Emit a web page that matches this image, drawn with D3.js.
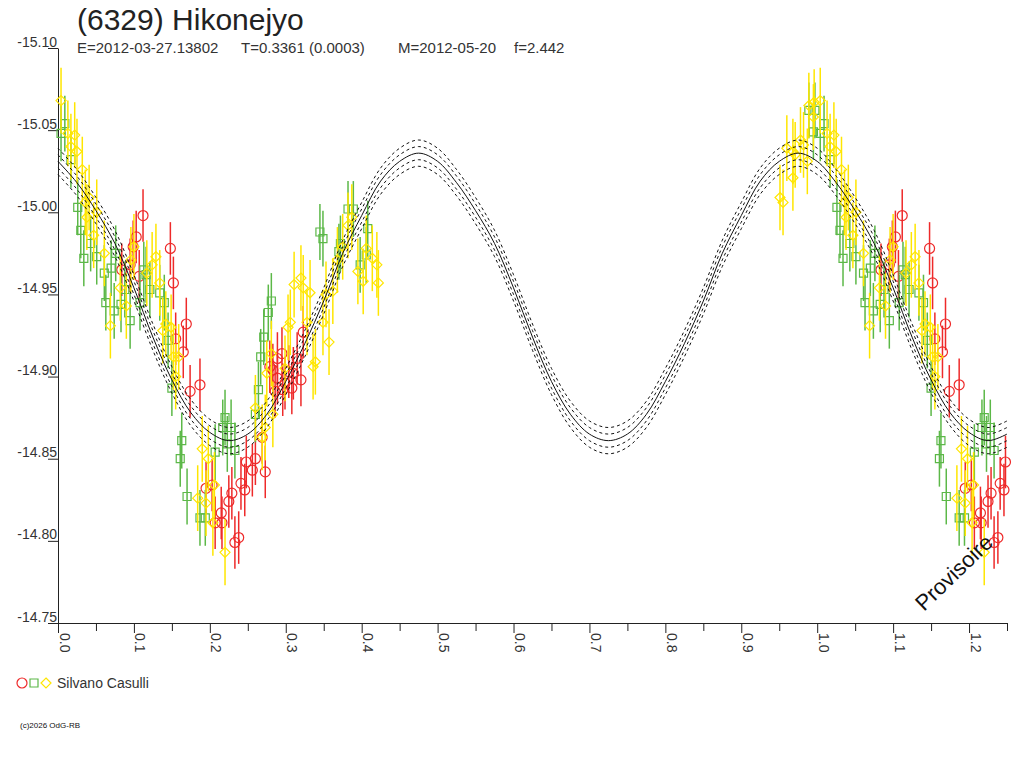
<!DOCTYPE html>
<html>
<head>
<meta charset="utf-8">
<script src="https://cdn.jsdelivr.net/npm/d3@7"></script>
<style>
body{margin:0;background:#fff;}
svg{display:block;font-family:"Liberation Sans",Arial,sans-serif;}
</style>
</head>
<body>
<svg id="chart" width="1024" height="768"></svg>
<script>
// texts
var title = "(6329) Hikonejyo";
var infoTexts = ["E=2012-03-27.13802", "T=0.3361 (0.0003)", "M=2012-05-20", "f=2.442"];
var observer = "Silvano Casulli";
var stamp = "(c)2026 OdG-RB";
var watermark = "Provisoire";

// axes
var yTicks = [-15.10, -15.05, -15.00, -14.95, -14.90, -14.85, -14.80, -14.75];
var xMajor = [0.0, 0.1, 0.2, 0.3, 0.4, 0.5, 0.6, 0.7, 0.8, 0.9, 1.0, 1.1, 1.2];
var xMinor = [0.05, 0.15, 0.25, 0.35, 0.45, 0.55, 0.65, 0.75, 0.85, 0.95, 1.05, 1.15, 1.25];

// fitted curve, phase 0..1
var fitPhase = [0.000,0.025,0.050,0.075,0.100,0.125,0.150,0.175,0.200,0.225,
                0.250,0.275,0.300,0.325,0.350,0.375,0.400,0.425,0.450,0.475,
                0.500,0.525,0.550,0.575,0.600,0.625,0.650,0.675,0.700,0.725,
                0.750,0.775,0.800,0.825,0.850,0.875,0.900,0.925,0.950,0.975,1.000];
var fitMag = [-15.031,-15.018,-15.001,-14.981,-14.954,-14.924,-14.898,-14.878,-14.866,-14.861,
              -14.865,-14.877,-14.897,-14.920,-14.946,-14.975,-14.998,-15.019,-15.031,-15.036,
              -15.031,-15.018,-15.001,-14.981,-14.954,-14.924,-14.897,-14.877,-14.865,-14.861,
              -14.865,-14.877,-14.897,-14.920,-14.946,-14.975,-14.998,-15.019,-15.031,-15.036,-15.031];
var fitBands = [-0.008, -0.004, 0.004, 0.008];

// observations [phase, mag]
var redPoints = [[0.112,-14.998],[0.103,-14.985],[0.099,-14.979],[0.095,-14.968],[0.084,-14.965],
  [0.107,-14.961],[0.148,-14.978],[0.152,-14.957],[0.169,-14.932],[0.155,-14.923],[0.165,-14.915],
  [0.187,-14.895],[0.174,-14.891],[0.195,-14.832],[0.203,-14.834],[0.229,-14.829],[0.225,-14.824],
  [0.241,-14.835],[0.246,-14.831],[0.248,-14.848],[0.215,-14.817],[0.207,-14.811],[0.216,-14.811],
  [0.233,-14.799],[0.238,-14.802],[0.323,-14.927],[0.295,-14.914],[0.289,-14.911],[0.279,-14.906],
  [0.283,-14.904],[0.289,-14.899],[0.299,-14.896],[0.304,-14.903],[0.310,-14.902],[0.315,-14.911],
  [0.320,-14.898],[0.308,-14.893],[0.286,-14.891],[0.296,-14.892],[0.269,-14.863],[0.260,-14.850],
  [0.256,-14.843],[0.273,-14.842]];
var greenPoints = [[0.004,-15.048],[0.009,-15.054],[0.017,-15.032],[0.026,-15.003],[0.030,-14.989],
  [0.034,-14.972],[0.043,-14.981],[0.051,-14.973],[0.061,-14.963],[0.070,-14.966],[0.076,-14.975],
  [0.063,-14.945],[0.074,-14.940],[0.083,-14.944],[0.095,-14.934],[0.108,-14.945],[0.088,-14.953],
  [0.134,-14.951],[0.140,-14.945],[0.121,-14.953],[0.113,-14.965],[0.116,-14.962],[0.145,-14.922],
  [0.150,-14.893],[0.163,-14.861],[0.161,-14.850],[0.170,-14.827],[0.187,-14.814],[0.194,-14.814],
  [0.220,-14.875],[0.217,-14.869],[0.228,-14.869],[0.223,-14.859],[0.233,-14.855],[0.207,-14.854],
  [0.382,-15.002],[0.389,-15.002],[0.408,-14.990],[0.406,-14.974],[0.398,-14.968],[0.345,-14.988],
  [0.349,-14.984],[0.372,-14.981],[0.370,-14.976],[0.281,-14.946],[0.277,-14.939],[0.271,-14.924],
  [0.267,-14.912],[0.264,-14.892],[0.260,-14.877],[0.989,-15.062],[0.997,-15.062],[0.995,-15.049]];
var yellowPoints = [[0.004,-15.068],[0.013,-15.048],[0.022,-15.047],[0.017,-15.040],[0.025,-15.037],
  [0.032,-15.026],[0.041,-15.009],[0.051,-15.000],[0.038,-14.997],[0.036,-15.006],[0.047,-14.986],
  [0.061,-14.975],[0.100,-14.979],[0.096,-14.971],[0.129,-14.973],[0.124,-14.968],[0.117,-14.963],
  [0.134,-14.957],[0.082,-14.954],[0.090,-14.943],[0.069,-14.931],[0.142,-14.932],[0.149,-14.930],
  [0.138,-14.928],[0.152,-14.912],[0.159,-14.912],[0.155,-14.900],[0.190,-14.856],[0.198,-14.850],
  [0.184,-14.826],[0.195,-14.823],[0.206,-14.834],[0.204,-14.811],[0.220,-14.793],[0.387,-14.997],
  [0.382,-14.992],[0.406,-14.978],[0.395,-14.964],[0.402,-14.958],[0.422,-14.957],[0.420,-14.968],
  [0.414,-14.972],[0.375,-14.979],[0.368,-14.971],[0.311,-14.956],[0.320,-14.960],[0.323,-14.954],
  [0.332,-14.951],[0.362,-14.952],[0.353,-14.950],[0.306,-14.933],[0.303,-14.930],[0.328,-14.933],
  [0.349,-14.933],[0.357,-14.921],[0.339,-14.909],[0.336,-14.906],[0.275,-14.902],[0.281,-14.914],
  [0.299,-14.905],[0.260,-14.881],[0.283,-14.877],[0.273,-14.869],[0.269,-14.863],[0.989,-15.065],
  [0.996,-15.067],[0.995,-15.058],[0.978,-15.044],[0.960,-15.039],[0.968,-15.037],[0.982,-15.041],
  [0.971,-15.035],[0.987,-15.031],[0.968,-15.021],[0.951,-15.009],[0.955,-15.006]];
var errRed = 0.016, errGreen = 0.017, errYellow = 0.02;

var svg = d3.select('#chart');
var maxPhase = 1.25;

var x = d3.scaleLinear().domain([0, maxPhase]).range([58, 1007]);
var y = d3.scaleLinear().domain([-15.10, -14.75]).range([48, 623]);

// repeat phases 0..0.25 at 1..1.25
var wrap = function(pts) {
  var out = pts.slice();
  pts.forEach(function(p) {
    if (p[0] + 1 <= maxPhase) out.push([p[0] + 1, p[1]]);
  });
  return out;
};

// title and header
svg.append('text').attr('x', 77).attr('y', 30)
   .attr('font-size', 30).attr('fill', '#222').text(title);
var infoX = [77, 241, 398, 514];
infoTexts.forEach(function(t, i) {
  svg.append('text').attr('x', infoX[i]).attr('y', 53)
     .attr('font-size', 15).attr('fill', '#333').text(t);
});

// y axis
var yAxis = d3.axisLeft(y).tickValues(yTicks).tickSize(10).tickSizeOuter(0)
              .tickFormat(function(d) { return d.toFixed(2); });
var gy = svg.append('g').attr('transform', 'translate(58,0)').call(yAxis);
gy.selectAll('text').attr('x', -1).attr('dy', 0).attr('y', -2)
  .attr('font-size', 14).attr('fill', '#333').attr('font-family', '"Liberation Sans",Arial,sans-serif');
gy.selectAll('line, path').attr('stroke', '#222');

// x axis
var xAxisMinor = d3.axisBottom(x).tickValues(xMinor).tickSize(8).tickSizeOuter(0).tickFormat('');
var gxm = svg.append('g').attr('transform', 'translate(0,623)').call(xAxisMinor);
gxm.selectAll('line, path').attr('stroke', '#222');
var xAxis = d3.axisBottom(x).tickValues(xMajor).tickSize(10).tickSizeOuter(0)
              .tickFormat(function(d) { return d.toFixed(1); });
var gx = svg.append('g').attr('transform', 'translate(0,623)').call(xAxis);
gx.select('.domain').remove();
gx.selectAll('line').attr('stroke', '#222');
gx.selectAll('text')
  .attr('y', 0).attr('dy', 0)
  .attr('text-anchor', 'start')
  .attr('transform', 'translate(1,10) rotate(90)')
  .attr('font-size', 14).attr('fill', '#333').attr('font-family', '"Liberation Sans",Arial,sans-serif');

// observations
var drawSeries = function(pts, err, color, shape) {
  var g = svg.append('g');
  var all = wrap(pts);
  g.selectAll('line').data(all).enter().append('line')
   .attr('x1', function(d) { return x(d[0]); })
   .attr('x2', function(d) { return x(d[0]); })
   .attr('y1', function(d) { return y(d[1] - err); })
   .attr('y2', function(d) { return y(d[1] + err); })
   .attr('stroke', color).attr('stroke-width', 1.5);
  g.selectAll('path.mk').data(all).enter().append('path').attr('class', 'mk')
   .attr('d', function(d) { return shape(x(d[0]), y(d[1])); })
   .attr('fill', 'none').attr('stroke', color).attr('stroke-width', 1.2);
};
var circle = function(cx, cy) {
  return 'M' + (cx + 5) + ',' + cy + 'A5,5 0 1,1 ' + (cx - 5) + ',' + cy + 'A5,5 0 1,1 ' + (cx + 5) + ',' + cy + 'Z';
};
var square = function(cx, cy) {
  return 'M' + (cx - 4) + ',' + (cy - 4) + 'h8v8h-8Z';
};
var diamond = function(cx, cy) {
  return 'M' + cx + ',' + (cy - 5) + 'L' + (cx + 5) + ',' + cy + 'L' + cx + ',' + (cy + 5) + 'L' + (cx - 5) + ',' + cy + 'Z';
};

var red = '#ee2a2a', green = '#5cb848', yellow = '#ffe600';
drawSeries(redPoints, errRed, red, circle);
drawSeries(greenPoints, errGreen, green, square);
drawSeries(yellowPoints, errYellow, yellow, diamond);

// fitted curve with uncertainty bands
var fit = fitPhase.map(function(p, i) { return [p, fitMag[i]]; });
fitPhase.forEach(function(p, i) {
  if (p > 0 && p + 1 <= maxPhase) fit.push([p + 1, fitMag[i]]);
});
var line = d3.line().curve(d3.curveCatmullRom)
             .x(function(d) { return x(d[0]); });
svg.append('path').datum(fit)
   .attr('d', line.y(function(d) { return y(d[1]); }))
   .attr('fill', 'none').attr('stroke', '#111').attr('stroke-width', 1);
fitBands.forEach(function(off) {
  svg.append('path').datum(fit)
     .attr('d', line.y(function(d) { return y(d[1] + off); }))
     .attr('fill', 'none').attr('stroke', '#111').attr('stroke-width', 1)
     .attr('stroke-dasharray', '3,3');
});

// watermark
svg.append('text').attr('transform', 'translate(924,612) rotate(-44)')
   .attr('font-size', 22).attr('fill', '#111').text(watermark);

// legend
svg.append('path').attr('d', circle(22, 683)).attr('fill', 'none').attr('stroke', red).attr('stroke-width', 1.2);
svg.append('path').attr('d', square(34, 683)).attr('fill', 'none').attr('stroke', green).attr('stroke-width', 1.2);
svg.append('path').attr('d', diamond(46, 683)).attr('fill', 'none').attr('stroke', yellow).attr('stroke-width', 1.2);
svg.append('text').attr('x', 57).attr('y', 688).attr('font-size', 14).attr('fill', '#333').text(observer);

svg.append('text').attr('x', 20).attr('y', 728).attr('font-size', 8).attr('fill', '#111').text(stamp);
</script>
</body>
</html>
